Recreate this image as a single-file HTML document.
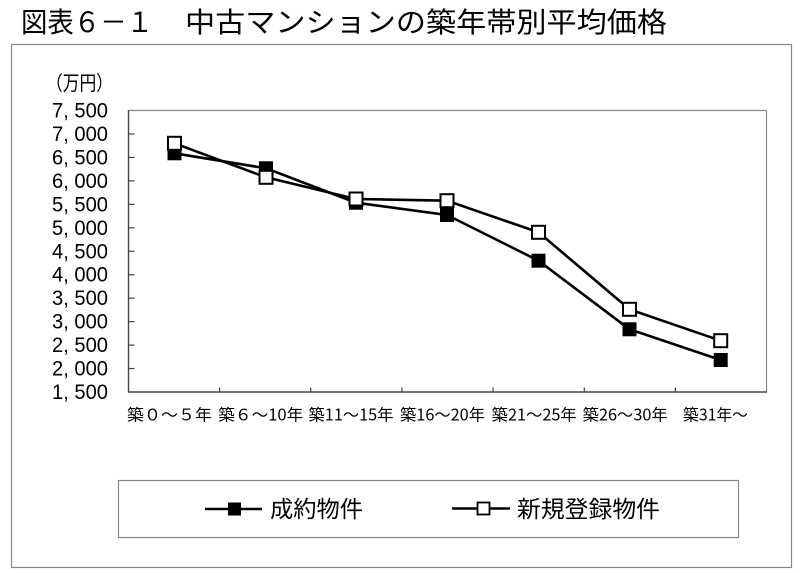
<!DOCTYPE html>
<html><head><meta charset="utf-8"><style>
html,body{margin:0;padding:0;background:#fff;}
svg{display:block;}
text{font-family:"Liberation Sans","Noto Sans CJK JP",sans-serif;fill:#000;}
.j{font-family:"Noto Sans CJK JP","IPAGothic",sans-serif;}
.d{font-family:"Liberation Sans",sans-serif;}
</style></head><body>
<svg width="800" height="573" viewBox="0 0 800 573" xmlns="http://www.w3.org/2000/svg">
<rect width="800" height="573" fill="#fff"/>
<!-- title -->
<text class="j" x="21" y="32" font-size="28" textLength="132" lengthAdjust="spacingAndGlyphs">図表６－１</text>
<text class="j" x="185" y="32" font-size="28" textLength="482" lengthAdjust="spacingAndGlyphs">中古マンションの築年帯別平均価格</text>
<!-- outer box -->
<rect x="11.5" y="44.5" width="780" height="523" fill="none" stroke="#888" stroke-width="1.2"/>
<!-- unit -->
<text class="j" x="46" y="90" font-size="20" textLength="67" lengthAdjust="spacingAndGlyphs">（万円）</text>
<!-- plot frame -->
<line x1="128.5" y1="110.5" x2="766.5" y2="110.5" stroke="#888" stroke-width="1.2"/>
<line x1="766.5" y1="110.5" x2="766.5" y2="392" stroke="#888" stroke-width="1.2"/>
<line x1="128.5" y1="110" x2="128.5" y2="392" stroke="#444" stroke-width="1.4"/>
<line x1="128" y1="392" x2="767" y2="392" stroke="#444" stroke-width="1.4"/>
<!-- y ticks & labels -->
<g stroke="#444" stroke-width="1.2">
<line x1="128.5" y1="133.96" x2="134.5" y2="133.96"/>
<line x1="128.5" y1="157.42" x2="134.5" y2="157.42"/>
<line x1="128.5" y1="180.88" x2="134.5" y2="180.88"/>
<line x1="128.5" y1="204.33" x2="134.5" y2="204.33"/>
<line x1="128.5" y1="227.79" x2="134.5" y2="227.79"/>
<line x1="128.5" y1="251.25" x2="134.5" y2="251.25"/>
<line x1="128.5" y1="274.71" x2="134.5" y2="274.71"/>
<line x1="128.5" y1="298.17" x2="134.5" y2="298.17"/>
<line x1="128.5" y1="321.63" x2="134.5" y2="321.63"/>
<line x1="128.5" y1="345.08" x2="134.5" y2="345.08"/>
<line x1="128.5" y1="368.54" x2="134.5" y2="368.54"/>
<line x1="219.6" y1="392" x2="219.6" y2="387.5"/>
<line x1="310.7" y1="392" x2="310.7" y2="387.5"/>
<line x1="401.9" y1="392" x2="401.9" y2="387.5"/>
<line x1="493.1" y1="392" x2="493.1" y2="387.5"/>
<line x1="584.3" y1="392" x2="584.3" y2="387.5"/>
<line x1="675.4" y1="392" x2="675.4" y2="387.5"/>
</g>
<g font-size="21">
<text class="d" x="52" y="117.5" textLength="56" lengthAdjust="spacingAndGlyphs">7, 500</text>
<text class="d" x="52" y="141" textLength="56" lengthAdjust="spacingAndGlyphs">7, 000</text>
<text class="d" x="52" y="164.4" textLength="56" lengthAdjust="spacingAndGlyphs">6, 500</text>
<text class="d" x="52" y="187.9" textLength="56" lengthAdjust="spacingAndGlyphs">6, 000</text>
<text class="d" x="52" y="211.3" textLength="56" lengthAdjust="spacingAndGlyphs">5, 500</text>
<text class="d" x="52" y="234.8" textLength="56" lengthAdjust="spacingAndGlyphs">5, 000</text>
<text class="d" x="52" y="258.3" textLength="56" lengthAdjust="spacingAndGlyphs">4, 500</text>
<text class="d" x="52" y="281.7" textLength="56" lengthAdjust="spacingAndGlyphs">4, 000</text>
<text class="d" x="52" y="305.2" textLength="56" lengthAdjust="spacingAndGlyphs">3, 500</text>
<text class="d" x="52" y="328.6" textLength="56" lengthAdjust="spacingAndGlyphs">3, 000</text>
<text class="d" x="52" y="352.1" textLength="56" lengthAdjust="spacingAndGlyphs">2, 500</text>
<text class="d" x="52" y="375.5" textLength="56" lengthAdjust="spacingAndGlyphs">2, 000</text>
<text class="d" x="52" y="399" textLength="56" lengthAdjust="spacingAndGlyphs">1, 500</text>
</g>
<!-- x labels -->
<g font-size="16">
<text class="j" x="127" y="420.5" textLength="85" lengthAdjust="spacingAndGlyphs">築０～５年</text>
<text class="j" x="218.3" y="420.5" textLength="85" lengthAdjust="spacingAndGlyphs">築６～10年</text>
<text class="j" x="308.5" y="420.5" textLength="85" lengthAdjust="spacingAndGlyphs">築11～15年</text>
<text class="j" x="400" y="420.5" textLength="85" lengthAdjust="spacingAndGlyphs">築16～20年</text>
<text class="j" x="491.7" y="420.5" textLength="85" lengthAdjust="spacingAndGlyphs">築21～25年</text>
<text class="j" x="582.7" y="420.5" textLength="85" lengthAdjust="spacingAndGlyphs">築26～30年</text>
<text class="j" x="683" y="420.5" textLength="65" lengthAdjust="spacingAndGlyphs">築31年～</text>
</g>
<!-- series: 成約物件 (filled) -->
<polyline points="174.5,153.3 266,168.3 356,202.7 447,215 538.5,260.7 629.5,329.3 720.7,360" fill="none" stroke="#000" stroke-width="2.6" stroke-linejoin="miter"/>
<!-- series: 新規登録物件 (open) -->
<polyline points="174.5,143.3 266,177.3 356,199 447,200.7 538.5,232.3 629.5,309.3 720.7,340.7" fill="none" stroke="#000" stroke-width="2.6" stroke-linejoin="miter"/>
<g fill="#000">
<rect x="167.5" y="146.3" width="14" height="14"/>
<rect x="259" y="161.3" width="14" height="14"/>
<rect x="349" y="195.7" width="14" height="14"/>
<rect x="440" y="208" width="14" height="14"/>
<rect x="531.5" y="253.7" width="14" height="14"/>
<rect x="622.5" y="322.3" width="14" height="14"/>
<rect x="713.7" y="353" width="14" height="14"/>
</g>
<g fill="#fff" stroke="#000" stroke-width="2">
<rect x="168" y="136.8" width="13" height="13"/>
<rect x="259.5" y="170.8" width="13" height="13"/>
<rect x="349.5" y="192.5" width="13" height="13"/>
<rect x="440.5" y="194.2" width="13" height="13"/>
<rect x="532" y="225.8" width="13" height="13"/>
<rect x="623" y="302.8" width="13" height="13"/>
<rect x="714.2" y="334.2" width="13" height="13"/>
</g>
<!-- legend -->
<rect x="118.5" y="480.5" width="620" height="57" fill="none" stroke="#888" stroke-width="1.2"/>
<line x1="205" y1="509" x2="262" y2="509" stroke="#000" stroke-width="2.6"/>
<rect x="228" y="502.5" width="13" height="13" fill="#000"/>
<text class="j" x="270" y="517" font-size="23" textLength="93" lengthAdjust="spacingAndGlyphs">成約物件</text>
<line x1="452" y1="508.5" x2="510" y2="508.5" stroke="#000" stroke-width="2.6"/>
<rect x="477.5" y="502.5" width="12" height="12" fill="#fff" stroke="#000" stroke-width="1.8"/>
<text class="j" x="517" y="517" font-size="23" textLength="143" lengthAdjust="spacingAndGlyphs">新規登録物件</text>
</svg>
</body></html>
